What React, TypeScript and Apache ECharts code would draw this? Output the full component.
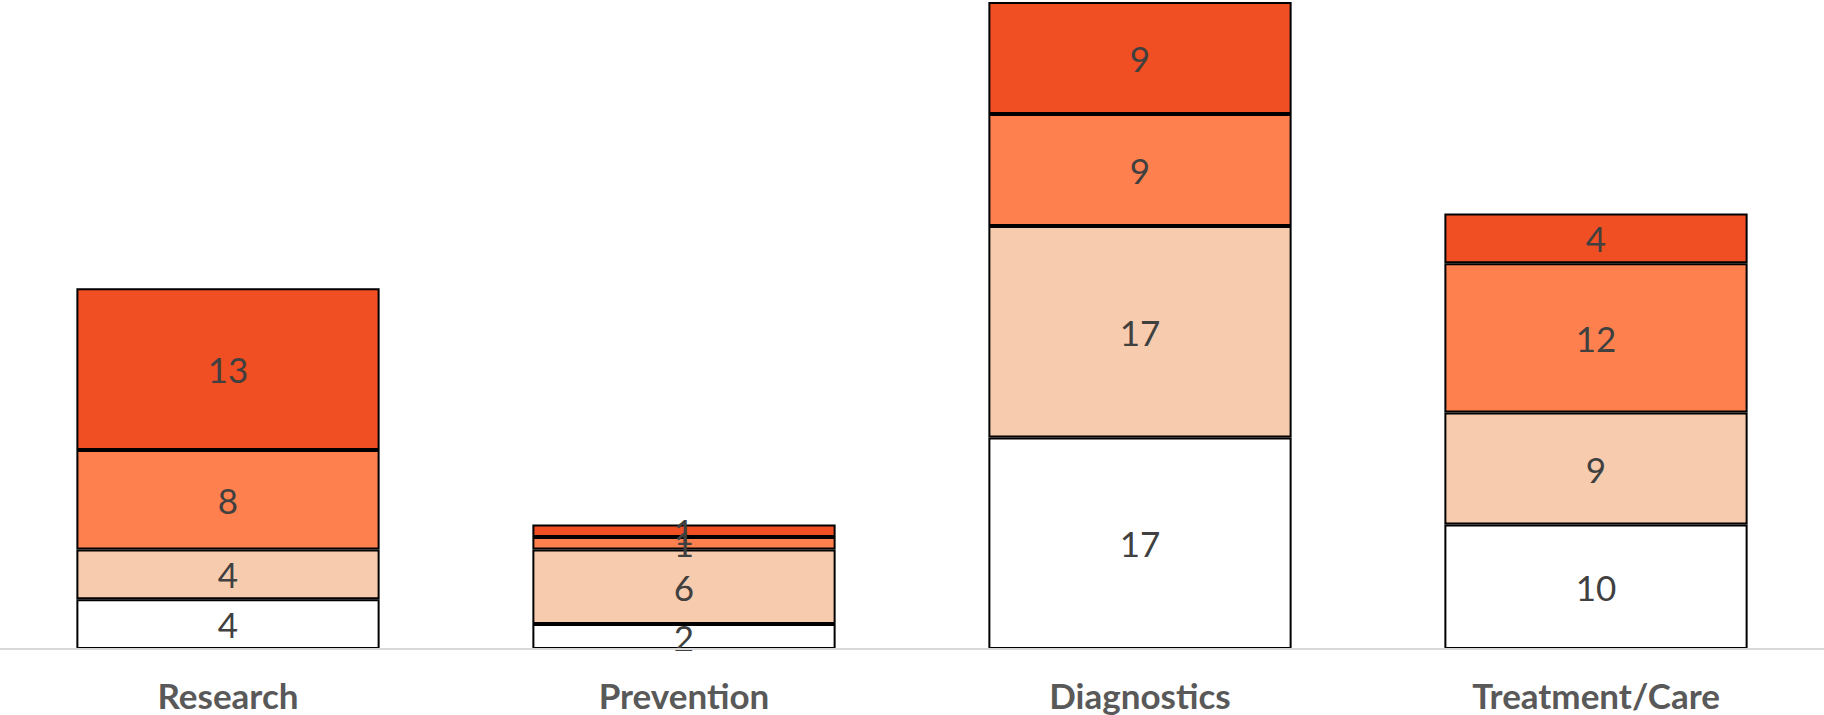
import React, { useEffect, useRef } from "react";
import * as echarts from "echarts";

const categories = ["Research", "Prevention", "Diagnostics", "Treatment/Care"];
const seriesNames = ["S1", "S2", "S3", "S4"];
const s1Values = [4, 2, 17, 10];
const s2Values = [4, 6, 17, 9];
const s3Values = [8, 1, 9, 12];
const s4Values = [13, 1, 9, 4];
const colors = ["#FFFFFF", "#F7CBAD", "#FF804F", "#F04E23"];

export default function App() {
  const ref = useRef<HTMLDivElement>(null);
  useEffect(() => {
    const chart = echarts.init(ref.current!, null, { renderer: "svg" });
    const all = [s1Values, s2Values, s3Values, s4Values];
    const font = "Lato, 'Open Sans', sans-serif";
    chart.setOption({
      animation: false,
      grid: { left: 0, right: 0, top: 2, bottom: 66 },
      xAxis: {
        type: "category",
        data: categories,
        axisLine: { show: true, lineStyle: { color: "#D9D9D9", width: 2 } },
        axisTick: { show: false },
        axisLabel: {
          color: "#595959",
          fontWeight: "bold",
          fontSize: 35,
          fontFamily: font,
          margin: 28,
        },
        z: 10,
      },
      yAxis: {
        type: "value",
        min: 0,
        max: 52,
        show: false,
        splitLine: { show: false },
      },
      series: all.map((vals, i) => ({
        name: seriesNames[i],
        type: "bar",
        stack: "total",
        data: vals,
        barWidth: "66.5%",
        itemStyle: { color: colors[i], borderColor: "#000000", borderWidth: 2 },
        label: {
          show: true,
          position: "inside",
          color: "#404040",
          fontSize: 35,
          fontFamily: font,
        },
      })),
    });
    return () => chart.dispose();
  }, []);
  return (
    <div
      ref={ref}
      style={{ position: "fixed", left: 0, top: 0, width: 1824, height: 715, background: "#fff" }}
    />
  );
}
